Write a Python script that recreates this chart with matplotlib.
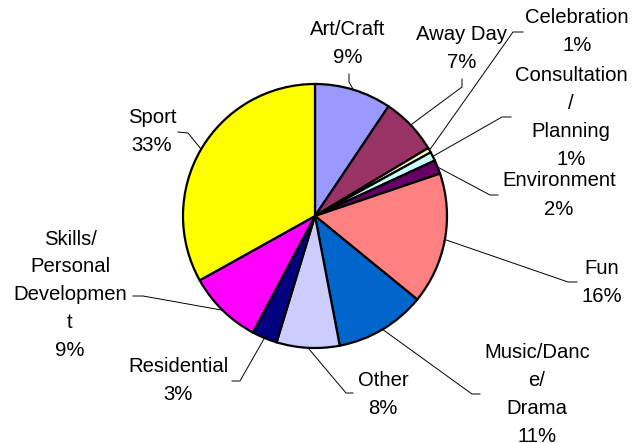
import numpy as np
import matplotlib
matplotlib.use("Agg")
import matplotlib.pyplot as plt

plt.rcParams['font.family'] = ['Liberation Sans', 'DejaVu Sans']

# activity share, clockwise from 12 o'clock
categories = ["Art/Craft", "Away Day", "Celebration", "Consultation\n/\nPlanning",
              "Environment", "Fun", "Music/Danc\ne/\nDrama", "Other", "Residential",
              "Skills/\nPersonal\nDevelopmen\nt", "Sport"]
values = [9.4, 7.0, 0.6, 1.1, 1.7, 16.1, 11.1, 7.7, 3.1, 9.1, 33.1]
colors = ["#9999FF", "#993366", "#FFFFCC", "#CCFFFF", "#660066", "#FF8080",
          "#0066CC", "#CCCCFF", "#000080", "#FF00FF", "#FFFF00"]

# label block centres and leader line ends (pixels from top-left)
label_xy = [(348, 43), (462, 48), (577, 31), (571, 117), (559, 195), (602, 282),
            (537, 394), (383, 394), (178, 380), (70, 295), (152, 131)]
leader_start = [(349, 74), (462, 79), (523, 32), (511, 117), (498, 195), (577, 282),
                (480, 394), (353, 393), (232, 381), (133, 296), (178, 132)]
leader_elbow = [(349, 82), (462, 87), (513, 32), (502, 117), (490, 195), (568, 282),
                (472, 394), (346, 393), (240, 381), (143, 296), (188, 133)]

W, H = 633, 443
cx, cy, r = 315, 216, 132

fig = plt.figure(figsize=(W / 100, H / 100), dpi=100)
ax = fig.add_axes([0, 0, 1, 1])

wedges, _ = ax.pie(values, colors=colors, startangle=90, counterclock=False,
                   center=(cx, H - cy), radius=r,
                   wedgeprops=dict(edgecolor='black', linewidth=1.6))
ax.set_xlim(0, W)
ax.set_ylim(0, H)
ax.set_aspect('equal')
ax.axis('off')

total = sum(values)
for w, name, v, (tx, ty), s, e in zip(wedges, categories, values, label_xy,
                                      leader_start, leader_elbow):
    ang = np.deg2rad((w.theta1 + w.theta2) / 2)
    ax_pt = (cx + r * np.cos(ang), H - cy + r * np.sin(ang))
    ax.plot([s[0], e[0], ax_pt[0]], [H - s[1], H - e[1], ax_pt[1]],
            color='black', lw=0.7, zorder=0)
    ax.text(tx, H - ty, "%s\n%.0f%%" % (name, v / total * 100), ha='center', va='center',
            multialignment='center', fontsize=14.6, linespacing=1.6, zorder=3)

fig.savefig("out.png", dpi=100)
